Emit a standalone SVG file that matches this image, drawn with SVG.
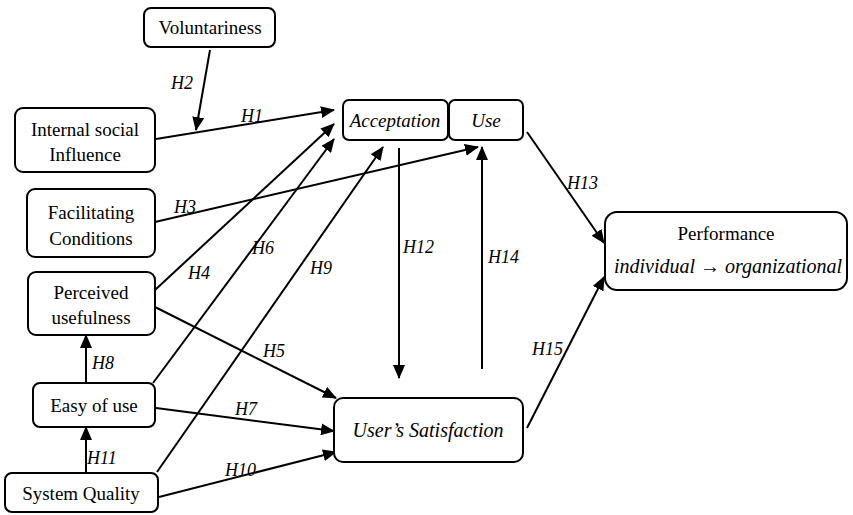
<svg xmlns="http://www.w3.org/2000/svg" width="853" height="515" viewBox="0 0 853 515">
<style>
.box{fill:#fff;stroke:#000;stroke-width:2}
.c{stroke:#000;stroke-width:2;fill:none;marker-end:url(#ah)}
</style>
<defs>
<marker id="ah" markerUnits="userSpaceOnUse" markerWidth="14" markerHeight="12" refX="13" refY="6" orient="auto">
<path d="M0,0 L14,6 L0,12 Z" fill="#000"/>
</marker>
</defs>
<rect width="853" height="515" fill="#fff"/>
<g id="connectors">
<path class="c" d="M210,50 L196,130"/>
<path class="c" d="M156,139 L334,110"/>
<path class="c" d="M155,222 L478,147"/>
<path class="c" d="M155,290 L334,124"/>
<path class="c" d="M153,383 L334,139"/>
<path class="c" d="M157,472 L383,147"/>
<path class="c" d="M155,307 L336,398"/>
<path class="c" d="M156,408 L334,431"/>
<path class="c" d="M159,497 L336,452"/>
<path class="c" d="M86,383 L86,335"/>
<path class="c" d="M86,473 L86,427"/>
<path class="c" d="M399,148 L399,378"/>
<path class="c" d="M482,369 L482,147"/>
<path class="c" d="M527,132 L604,243"/>
<path class="c" d="M527,428 L604,277"/>
<g font-family="Liberation Serif, serif" font-size="18" font-style="italic">
<text x="171" y="89">H2</text>
<text x="241" y="122">H1</text>
<text x="174" y="213">H3</text>
<text x="188" y="279">H4</text>
<text x="252" y="254">H6</text>
<text x="310" y="274">H9</text>
<text x="263" y="357">H5</text>
<text x="92" y="369">H8</text>
<text x="235" y="415">H7</text>
<text x="87" y="464">H11</text>
<text x="225" y="476">H10</text>
<text x="403" y="253">H12</text>
<text x="488" y="263">H14</text>
<text x="567" y="189">H13</text>
<text x="532" y="355">H15</text>
</g>
</g>
<g font-family="Liberation Serif, serif" font-size="19" text-anchor="middle">
<g id="voluntariness"><rect class="box" x="144" y="8" width="131" height="39" rx="7"/><text x="210" y="34">Voluntariness</text></g>
<g id="internal-social"><rect class="box" x="15" y="108" width="140" height="64" rx="8"/><text x="85" y="136">Internal social</text><text x="85" y="161">Influence</text></g>
<g id="facilitating"><rect class="box" x="27" y="189" width="128" height="68" rx="8"/><text x="91" y="219">Facilitating</text><text x="91" y="245">Conditions</text></g>
<g id="perceived"><rect class="box" x="28" y="272" width="127" height="63" rx="8"/><text x="91" y="299">Perceived</text><text x="91" y="324">usefulness</text></g>
<g id="easy"><rect class="box" x="33" y="383" width="122" height="44" rx="7"/><text x="94" y="412">Easy of use</text></g>
<g id="system-quality"><rect class="box" x="5" y="473" width="153" height="39" rx="7"/><text x="81" y="500">System Quality</text></g>
<g id="acceptation"><rect class="box" x="343" y="100" width="105" height="40" rx="6"/><text x="395" y="127" font-style="italic" font-size="19">Acceptation</text></g>
<g id="use"><rect class="box" x="449" y="100" width="74" height="40" rx="6"/><text x="486" y="127" font-style="italic" font-size="19">Use</text></g>
<g id="satisfaction"><rect class="box" x="334" y="398" width="189" height="64" rx="9"/><text x="428" y="437" font-style="italic" font-size="20">User’s Satisfaction</text></g>
<g id="performance"><rect class="box" x="605" y="212" width="242" height="78" rx="12"/><text x="726" y="240">Performance</text><text x="728" y="273" font-style="italic" font-size="20">individual → organizational</text></g>
</g>
</svg>
